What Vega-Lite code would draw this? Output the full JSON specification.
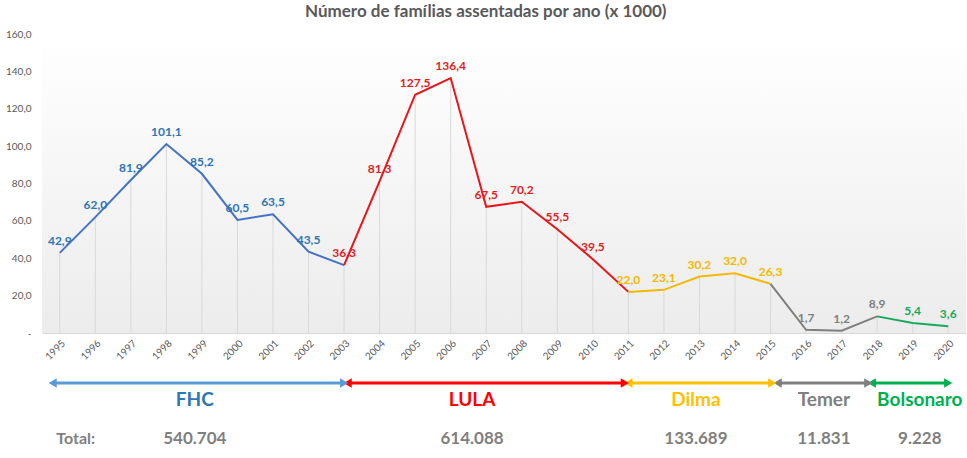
{
  "$schema": "https://vega.github.io/schema/vega-lite/v6.json",
  "padding": {"left": 5, "top": 3, "right": 1, "bottom": 0},
  "background": "#ffffff",
  "title": {
    "text": "Número de famílias assentadas por ano (x 1000)",
    "fontSize": 17,
    "fontWeight": "bold",
    "color": "#595959",
    "anchor": "middle",
    "offset": 8
  },
  "datasets": {
    "points": [
      {"year": 1995, "value": 42.9, "gov": "FHC"},
      {"year": 1996, "value": 62.0, "gov": "FHC"},
      {"year": 1997, "value": 81.9, "gov": "FHC"},
      {"year": 1998, "value": 101.1, "gov": "FHC"},
      {"year": 1999, "value": 85.2, "gov": "FHC"},
      {"year": 2000, "value": 60.5, "gov": "FHC"},
      {"year": 2001, "value": 63.5, "gov": "FHC"},
      {"year": 2002, "value": 43.5, "gov": "FHC"},
      {"year": 2003, "value": 36.3, "gov": "LULA"},
      {"year": 2004, "value": 81.3, "gov": "LULA"},
      {"year": 2005, "value": 127.5, "gov": "LULA"},
      {"year": 2006, "value": 136.4, "gov": "LULA"},
      {"year": 2007, "value": 67.5, "gov": "LULA"},
      {"year": 2008, "value": 70.2, "gov": "LULA"},
      {"year": 2009, "value": 55.5, "gov": "LULA"},
      {"year": 2010, "value": 39.5, "gov": "LULA"},
      {"year": 2011, "value": 22.0, "gov": "Dilma"},
      {"year": 2012, "value": 23.1, "gov": "Dilma"},
      {"year": 2013, "value": 30.2, "gov": "Dilma"},
      {"year": 2014, "value": 32.0, "gov": "Dilma"},
      {"year": 2015, "value": 26.3, "gov": "Dilma"},
      {"year": 2016, "value": 1.7, "gov": "Temer"},
      {"year": 2017, "value": 1.2, "gov": "Temer"},
      {"year": 2018, "value": 8.9, "gov": "Temer"},
      {"year": 2019, "value": 5.4, "gov": "Bolsonaro"},
      {"year": 2020, "value": 3.6, "gov": "Bolsonaro"}
    ],
    "lines": [
      {"year": 1995, "value": 42.9, "gov": "FHC"},
      {"year": 1996, "value": 62.0, "gov": "FHC"},
      {"year": 1997, "value": 81.9, "gov": "FHC"},
      {"year": 1998, "value": 101.1, "gov": "FHC"},
      {"year": 1999, "value": 85.2, "gov": "FHC"},
      {"year": 2000, "value": 60.5, "gov": "FHC"},
      {"year": 2001, "value": 63.5, "gov": "FHC"},
      {"year": 2002, "value": 43.5, "gov": "FHC"},
      {"year": 2003, "value": 36.3, "gov": "FHC"},
      {"year": 2003, "value": 36.3, "gov": "LULA"},
      {"year": 2004, "value": 81.3, "gov": "LULA"},
      {"year": 2005, "value": 127.5, "gov": "LULA"},
      {"year": 2006, "value": 136.4, "gov": "LULA"},
      {"year": 2007, "value": 67.5, "gov": "LULA"},
      {"year": 2008, "value": 70.2, "gov": "LULA"},
      {"year": 2009, "value": 55.5, "gov": "LULA"},
      {"year": 2010, "value": 39.5, "gov": "LULA"},
      {"year": 2011, "value": 22.0, "gov": "LULA"},
      {"year": 2011, "value": 22.0, "gov": "Dilma"},
      {"year": 2012, "value": 23.1, "gov": "Dilma"},
      {"year": 2013, "value": 30.2, "gov": "Dilma"},
      {"year": 2014, "value": 32.0, "gov": "Dilma"},
      {"year": 2015, "value": 26.3, "gov": "Dilma"},
      {"year": 2015, "value": 26.3, "gov": "Temer"},
      {"year": 2016, "value": 1.7, "gov": "Temer"},
      {"year": 2017, "value": 1.2, "gov": "Temer"},
      {"year": 2018, "value": 8.9, "gov": "Temer"},
      {"year": 2018, "value": 8.9, "gov": "Bolsonaro"},
      {"year": 2019, "value": 5.4, "gov": "Bolsonaro"},
      {"year": 2020, "value": 3.6, "gov": "Bolsonaro"}
    ],
    "arrows": [
      {"gov": "FHC", "start": 1994.8, "end": 2003.0},
      {"gov": "LULA", "start": 2003.1, "end": 2010.9},
      {"gov": "Dilma", "start": 2011.0, "end": 2015.05},
      {"gov": "Temer", "start": 2015.2, "end": 2017.75},
      {"gov": "Bolsonaro", "start": 2017.85, "end": 2020.0}
    ],
    "names": [
      {"gov": "FHC", "x": 1998.8, "name": "FHC", "total": "540.704"},
      {"gov": "LULA", "x": 2006.6, "name": "LULA", "total": "614.088"},
      {"gov": "Dilma", "x": 2012.9, "name": "Dilma", "total": "133.689"},
      {"gov": "Temer", "x": 2016.5, "name": "Temer", "total": "11.831"},
      {"gov": "Bolsonaro", "x": 2019.2, "name": "Bolsonaro", "total": "9.228"}
    ]
  },
  "vconcat": [
    {
      "width": 924,
      "height": 299,
      "view": {
        "stroke": null,
        "fill": {
          "gradient": "linear",
          "x1": 0, "y1": 0, "x2": 0, "y2": 1,
          "stops": [
            {"offset": 0, "color": "#ffffff"},
            {"offset": 1, "color": "#ececec"}
          ]
        }
      },
      "encoding": {
        "x": {
          "field": "year",
          "type": "quantitative",
          "scale": {"domain": [1994.5, 2020.5], "nice": false, "zero": false},
          "axis": {
            "title": null,
            "values": [1995, 1996, 1997, 1998, 1999, 2000, 2001, 2002, 2003, 2004, 2005, 2006, 2007, 2008, 2009, 2010, 2011, 2012, 2013, 2014, 2015, 2016, 2017, 2018, 2019, 2020],
            "format": "d",
            "labelAngle": -45,
            "labelFontSize": 10,
            "labelColor": "#595959",
            "labelPadding": 5,
            "labelOverlap": false,
            "labelBound": false,
            "ticks": false,
            "grid": false,
            "domainColor": "#d9d9d9"
          }
        },
        "y": {
          "field": "value",
          "type": "quantitative",
          "scale": {"domain": [0, 160], "nice": false},
          "axis": {
            "title": null,
            "values": [0, 20, 40, 60, 80, 100, 120, 140, 160],
            "format": ".1f",
            "labelExpr": "datum.value === 0 ? '-' : datum.label",
            "labelFontSize": 10,
            "labelColor": "#595959",
            "labelPadding": 11,
            "labelOverlap": false,
            "ticks": false,
            "grid": false,
            "domain": false
          }
        }
      },
      "layer": [
        {
          "data": {"name": "points"},
          "mark": {"type": "rule", "color": "#d9d9d9", "strokeWidth": 1},
          "encoding": {
            "y2": {"datum": 0}
          }
        },
        {
          "data": {"name": "lines"},
          "mark": {"type": "line", "strokeWidth": 2},
          "encoding": {
            "detail": {"field": "gov", "type": "nominal"},
            "color": {
              "field": "gov",
              "type": "nominal",
              "legend": null,
              "scale": {
                "domain": ["FHC", "LULA", "Dilma", "Temer", "Bolsonaro"],
                "range": ["#4472c4", "#e8151b", "#f5b800", "#7f7f7f", "#1aa95b"]
              }
            }
          }
        },
        {
          "data": {"name": "points"},
          "mark": {"type": "text", "dy": -12, "fontSize": 12, "fontWeight": "bold", "font": "Lato"},
          "encoding": {
            "text": {"field": "value", "type": "quantitative", "format": ".1f"},
            "color": {
              "field": "gov",
              "type": "nominal",
              "legend": null,
              "scale": {
                "domain": ["FHC", "LULA", "Dilma", "Temer", "Bolsonaro"],
                "range": ["#2e75b6", "#e01f25", "#f5b800", "#7f7f7f", "#1aa95b"]
              }
            }
          }
        }
      ],
      "resolve": {"scale": {"color": "independent"}}
    },
    {
      "width": 924,
      "height": 78,
      "view": {"stroke": null},
      "encoding": {
        "color": {
          "field": "gov",
          "type": "nominal",
          "legend": null,
          "scale": {
            "domain": ["FHC", "LULA", "Dilma", "Temer", "Bolsonaro"],
            "range": ["#5b9bd5", "#ff0000", "#ffc000", "#7f7f7f", "#00b050"]
          }
        }
      },
      "layer": [
        {
          "data": {"name": "arrows"},
          "mark": {"type": "rule", "strokeWidth": 3},
          "encoding": {
            "x": {
              "field": "start",
              "type": "quantitative",
              "scale": {"domain": [1994.5, 2020.5], "nice": false, "zero": false},
              "axis": null
            },
            "x2": {"field": "end"},
            "y": {
              "datum": 1.1,
              "type": "quantitative",
              "scale": {"domain": [0, 7.8], "reverse": true, "nice": false},
              "axis": null
            }
          }
        },
        {
          "data": {"name": "arrows"},
          "mark": {"type": "point", "shape": "triangle-left", "filled": true, "size": 90, "opacity": 1},
          "encoding": {
            "x": {"field": "start", "type": "quantitative"},
            "y": {"datum": 1.1, "type": "quantitative"}
          }
        },
        {
          "data": {"name": "arrows"},
          "mark": {"type": "point", "shape": "triangle-right", "filled": true, "size": 90, "opacity": 1},
          "encoding": {
            "x": {"field": "end", "type": "quantitative"},
            "y": {"datum": 1.1, "type": "quantitative"}
          }
        },
        {
          "data": {"name": "names"},
          "mark": {"type": "text", "fontSize": 19, "fontWeight": "bold", "font": "Lato", "baseline": "middle"},
          "encoding": {
            "x": {"field": "x", "type": "quantitative"},
            "y": {"datum": 2.8, "type": "quantitative"},
            "text": {"field": "name", "type": "nominal"},
            "color": {
              "field": "gov",
              "type": "nominal",
              "legend": null,
              "scale": {
                "domain": ["FHC", "LULA", "Dilma", "Temer", "Bolsonaro"],
                "range": ["#2e75b6", "#ff0000", "#ffc000", "#7f7f7f", "#00b050"]
              }
            }
          }
        },
        {
          "data": {"name": "names"},
          "mark": {"type": "text", "fontSize": 17, "fontWeight": "bold", "font": "Lato", "baseline": "middle", "color": "#7f7f7f"},
          "encoding": {
            "x": {"field": "x", "type": "quantitative"},
            "y": {"datum": 6.7, "type": "quantitative"},
            "text": {"field": "total", "type": "nominal"},
            "color": {"value": "#7f7f7f"}
          }
        },
        {
          "data": {"values": [{"x": 1995.45, "label": "Total:"}]},
          "mark": {"type": "text", "fontSize": 16, "fontWeight": "bold", "font": "Lato", "baseline": "middle", "color": "#7f7f7f"},
          "encoding": {
            "x": {"field": "x", "type": "quantitative"},
            "y": {"datum": 6.7, "type": "quantitative"},
            "text": {"field": "label", "type": "nominal"},
            "color": {"value": "#7f7f7f"}
          }
        }
      ],
      "resolve": {"scale": {"color": "independent"}}
    }
  ],
  "spacing": 10,
  "config": {
    "font": "Lato",
    "locale": {
      "number": {"decimal": ",", "thousands": ".", "grouping": [3], "currency": ["R$", ""]}
    },
    "axis": {"labelFont": "Lato", "labelOverlap": false},
    "title": {"font": "Lato"}
  }
}
